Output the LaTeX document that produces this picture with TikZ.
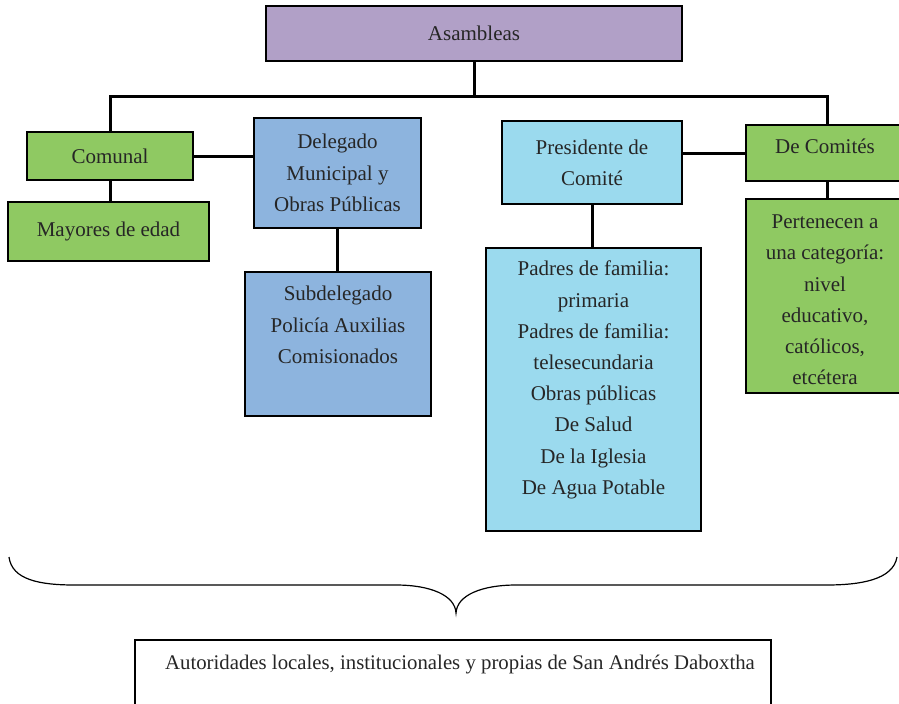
\documentclass[tikz,border=0pt]{standalone}
\usepackage{fontspec}
\setmainfont{Liberation Serif}
\definecolor{lila}{RGB}{177,160,199}
\definecolor{verde}{RGB}{143,201,98}
\definecolor{azul}{RGB}{141,180,222}
\definecolor{celeste}{RGB}{155,218,238}
\tikzset{
  caja/.style={draw=black, line width=1pt, align=center, inner sep=0pt,
    text=black!85, font=\fontsize{10.5}{15.6}\selectfont},
  texto/.style={align=center, inner sep=0pt, text=black!85,
    font=\fontsize{10.5}{15.6}\selectfont},
  linea/.style={line width=1.5pt},
}
\begin{document}
\begin{tikzpicture}[x=0.5pt, y=-0.5pt]
    \useasboundingbox (0,0) rectangle (899,703);

    % top level
    \node[caja, fill=lila, minimum width=208pt, minimum height=27.5pt] (asam) at (474,33.5) {Asambleas};
    \coordinate (bus) at (0,96);

    % left branch
    \node[caja, fill=verde, minimum width=83pt, minimum height=24pt] (comunal) at (110,156) {Comunal};
    \node[caja, fill=verde, minimum width=100.5pt, minimum height=29.5pt] (mayores) at (108.5,231.5) {Mayores de edad};
    \node[caja, fill=azul, minimum width=83.5pt, minimum height=55pt] (delegado) at (337.5,173) {Delegado\\Municipal y\\Obras Públicas};
    \node[caja, fill=azul, minimum width=93pt, minimum height=72pt] (sub) at (338,344) {};
    \node[texto] (sub-t) at (338,325) {Subdelegado\\Policía Auxilias\\Comisionados};

    % right branch
    \node[caja, fill=celeste, minimum width=90pt, minimum height=41.5pt] (pres) at (592,162.5) {Presidente de\\Comité};
    \node[caja, fill=celeste, minimum width=107.5pt, minimum height=141.5pt] (padres) at (593.5,389.5) {};
    \node[texto] (padres-t) at (593.5,380) {Padres de familia:\\primaria\\Padres de familia:\\telesecundaria\\Obras públicas\\De Salud\\De la Iglesia\\De Agua Potable};
    \node[caja, fill=verde, minimum width=100pt, minimum height=28pt] (decom) at (846,153) {};
    \node[texto] (decom-t) at (825,146) {De Comités};
    \node[caja, fill=verde, minimum width=100pt, minimum height=97pt] (pert) at (846,296) {};
    \node[texto] (pert-t) at (825,300) {Pertenecen a\\una categoría:\\nivel\\educativo,\\católicos,\\etcétera};
    \coordinate (bajada) at (827,0);

    % connectors
    \draw[linea] (asam.south) -- (asam.south |- bus);
    \draw[linea] (comunal.north) -- (comunal.north |- bus) -- (bajada |- bus) -- (bajada |- decom.north);
    \draw[linea] (comunal.south) -- (comunal.south |- mayores.north);
    \draw[linea] (comunal.east) -- (comunal.east -| delegado.west);
    \draw[linea] (delegado.south) -- (delegado.south |- sub.north);
    \draw[linea] (decom.west -| pres.east) -- (decom.west);
    \draw[linea] (pres.south) -- (pres.south |- padres.north);
    \draw[linea] (bajada |- decom.south) -- (bajada |- pert.north);

    % brace
    \draw[line width=0.6pt] (9,557) .. controls (12,580) and (40,585) .. (75,585) -- (396,585)
        .. controls (430,585) and (455,595) .. (456,613)
        .. controls (457,595) and (482,585) .. (516,585) -- (826,585)
        .. controls (860,585) and (893,580) .. (897,557);

    % bottom box
    \node[caja, line width=1.2pt, minimum width=318pt, minimum height=40pt] (autor) at (453,680) {};
    \node[texto, font=\fontsize{10.4}{12}\selectfont] (autor-t) at (460,664) {Autoridades locales, institucionales y propias de San Andrés Daboxtha};
\end{tikzpicture}
\end{document}
